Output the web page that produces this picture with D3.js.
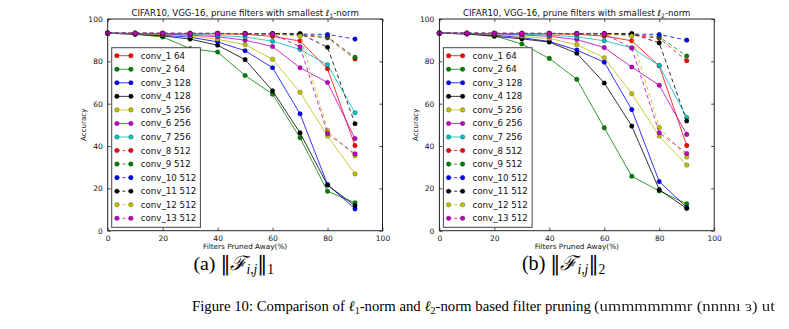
<!DOCTYPE html>
<html>
<head>
<meta charset="utf-8">
<script src="https://cdn.jsdelivr.net/npm/d3@7"></script>
<style>
  body { margin: 0; background: #fff; }
  svg { display: block; }
</style>
</head>
<body>
<svg id="fig" width="789" height="329"></svg>
<script>
// Fraction of filters pruned away in a single layer (%)
const pruned = [0, 10, 20, 30, 40, 50, 60, 70, 80, 90];

// Layer names with their number of filters
const layers = ["conv_1 64", "conv_2 64", "conv_3 128", "conv_4 128", "conv_5 256",
  "conv_6 256", "conv_7 256", "conv_8 512", "conv_9 512", "conv_10 512",
  "conv_11 512", "conv_12 512", "conv_13 512"];

// Test accuracy (%) after pruning filters with the smallest l1-norm
const l1Accuracy = [
  [93.3, 93.2, 93.1, 93.0, 93.0, 92.8, 91.8, 89.6, 76.5, 40.2],
  [93.3, 92.8, 91.5, 86.0, 84.4, 73.3, 64.5, 43.9, 18.6, 13.2],
  [93.3, 93.0, 92.4, 91.4, 89.2, 85.0, 77.0, 55.2, 21.8, 10.3],
  [93.3, 92.8, 92.0, 90.5, 87.6, 80.8, 66.1, 46.2, 21.5, 11.8],
  [93.3, 93.0, 92.6, 92.0, 90.4, 87.9, 81.0, 65.4, 44.7, 26.8],
  [93.3, 93.1, 92.9, 92.4, 91.6, 90.0, 87.0, 77.0, 70.0, 43.5],
  [93.3, 93.2, 93.1, 92.8, 92.2, 91.5, 89.5, 85.6, 78.4, 55.7],
  [93.3, 93.2, 93.2, 93.1, 93.1, 93.0, 92.9, 92.3, 91.1, 81.1],
  [93.3, 93.2, 93.2, 93.2, 93.1, 93.0, 92.9, 92.6, 91.6, 81.9],
  [93.3, 93.3, 93.2, 93.2, 93.2, 93.1, 93.0, 92.9, 92.7, 90.5],
  [93.3, 93.3, 93.2, 93.2, 93.2, 93.1, 93.1, 93.1, 86.6, 50.5],
  [93.3, 93.3, 93.2, 93.2, 93.1, 93.0, 92.8, 92.0, 47.3, 35.4],
  [93.3, 93.3, 93.3, 93.2, 93.2, 93.1, 93.0, 86.9, 45.9, 36.3]
];

// Test accuracy (%) after pruning filters with the smallest l2-norm
const l2Accuracy = [
  [93.3, 93.2, 93.1, 93.0, 93.0, 92.8, 91.9, 89.7, 77.9, 40.2],
  [93.3, 93.0, 92.1, 88.2, 81.4, 71.5, 48.6, 25.7, 18.8, 12.7],
  [93.3, 93.0, 92.4, 91.2, 89.4, 85.3, 79.6, 57.2, 23.2, 11.0],
  [93.3, 92.9, 91.8, 90.6, 89.1, 83.8, 69.8, 49.4, 19.4, 10.5],
  [93.3, 93.1, 92.7, 91.8, 90.8, 87.9, 81.7, 64.7, 44.7, 31.0],
  [93.3, 93.2, 93.0, 92.5, 91.8, 90.3, 86.5, 77.3, 68.7, 45.5],
  [93.3, 93.2, 93.1, 92.8, 92.4, 91.6, 89.7, 86.4, 78.0, 53.5],
  [93.3, 93.2, 93.2, 93.1, 93.1, 93.0, 92.9, 92.4, 90.9, 80.3],
  [93.3, 93.2, 93.2, 93.2, 93.1, 93.0, 92.9, 92.6, 91.6, 82.5],
  [93.3, 93.3, 93.2, 93.2, 93.2, 93.1, 93.0, 92.9, 92.7, 90.0],
  [93.3, 93.3, 93.2, 93.2, 93.2, 93.1, 93.1, 93.1, 88.7, 51.8],
  [93.3, 93.3, 93.2, 93.2, 93.1, 93.0, 92.8, 92.0, 48.8, 34.8],
  [93.3, 93.3, 93.3, 93.2, 93.2, 93.1, 93.0, 86.3, 46.3, 36.5]
];

const xTicks = [0, 20, 40, 60, 80, 100];
const yTicks = [0, 20, 40, 60, 80, 100];

// classic matplotlib colour cycle: r g b k y m c
const cycle = ["#ff0000", "#008000", "#0000ff", "#000000", "#bfbf00", "#bf00bf", "#00bfbf"];
const colorOf = i => cycle[i % cycle.length];
const dashedOf = i => i >= 7;

const svg = d3.select("#fig");
const SANS = "'DejaVu Sans', 'Bitstream Vera Sans', sans-serif";
const SERIF = "'Liberation Serif', 'Times New Roman', serif";

const plotW = 274.8, plotH = 211.7, plotTop = 19;

function fitWidth(sel, baseSize, target) {
  const w = sel.node().getComputedTextLength();
  sel.attr("font-size", baseSize * target / w);
}

function drawPanel(left, accuracy, normIndex, letter, captionX, captionW) {
  const g = svg.append("g");
  const x = d3.scaleLinear().domain([0, 100]).range([left, left + plotW]);
  const y = d3.scaleLinear().domain([0, 100]).range([plotTop + plotH, plotTop]);

  // inward ticks on all four sides
  const tickLen = 3;
  const ax = g.append("g").attr("transform", `translate(0,${plotTop + plotH})`)
    .call(d3.axisBottom(x).tickValues(xTicks).tickSizeInner(-tickLen).tickSizeOuter(0).tickPadding(5));
  const axTop = g.append("g").attr("transform", `translate(0,${plotTop})`)
    .call(d3.axisTop(x).tickValues(xTicks).tickSizeInner(-tickLen).tickSizeOuter(0).tickFormat(""));
  const ay = g.append("g").attr("transform", `translate(${left},0)`)
    .call(d3.axisLeft(y).tickValues(yTicks).tickSizeInner(-tickLen).tickSizeOuter(0).tickPadding(5));
  const ayR = g.append("g").attr("transform", `translate(${left + plotW},0)`)
    .call(d3.axisRight(y).tickValues(yTicks).tickSizeInner(-tickLen).tickSizeOuter(0).tickFormat(""));
  [ax, axTop, ay, ayR].forEach(a => {
    a.select(".domain").remove();
    a.selectAll("line").attr("stroke", "#222").attr("stroke-width", 0.8);
    a.selectAll("text").attr("font-family", SANS).attr("font-size", 7.5).attr("fill", "#111");
  });

  // series: line then markers, drawn in layer order
  const line = d3.line().x((d, k) => x(pruned[k])).y(d => y(d));
  accuracy.forEach((vals, i) => {
    const col = colorOf(i);
    g.append("path").datum(vals).attr("d", line)
      .attr("fill", "none").attr("stroke", col).attr("stroke-width", 1)
      .attr("stroke-opacity", 0.8)
      .attr("stroke-dasharray", dashedOf(i) ? "4,3" : null);
    g.selectAll(null).data(vals).join("circle")
      .attr("cx", (d, k) => x(pruned[k])).attr("cy", d => y(d)).attr("r", 2.3)
      .attr("fill", col).attr("stroke", "#000").attr("stroke-width", 0.4).attr("stroke-opacity", 0.6);
  });

  // frame
  g.append("rect").attr("x", left).attr("y", plotTop).attr("width", plotW).attr("height", plotH)
    .attr("fill", "none").attr("stroke", "#222").attr("stroke-width", 1);

  // legend (lower left)
  const lg = g.append("g").attr("transform", `translate(${left + 4},${plotTop + 28.7})`);
  lg.append("rect").attr("width", 88.7).attr("height", 179.6)
    .attr("fill", "#fff").attr("stroke", "#444").attr("stroke-width", 1);
  layers.forEach((name, i) => {
    const ey = 8 + i * 13.55;
    const col = colorOf(i);
    lg.append("line").attr("x1", 5.2).attr("x2", 19.2).attr("y1", ey).attr("y2", ey)
      .attr("stroke", col).attr("stroke-width", 1).attr("stroke-opacity", 0.8)
      .attr("stroke-dasharray", dashedOf(i) ? "3,2.5" : null);
    [5.2, 19.2].forEach(cx => lg.append("circle").attr("cx", cx).attr("cy", ey).attr("r", 2.3)
      .attr("fill", col).attr("stroke", "#000").attr("stroke-width", 0.4).attr("stroke-opacity", 0.6));
    lg.append("text").attr("x", 29).attr("y", ey).attr("dy", "0.35em")
      .attr("font-family", SANS).attr("font-size", 8.7).attr("fill", "#111").text(name);
  });

  // title
  const t = g.append("text").attr("x", left + plotW / 2).attr("y", 16.3).attr("text-anchor", "middle")
    .attr("font-family", SANS).attr("font-size", 8.6).attr("fill", "#111");
  t.append("tspan").text("CIFAR10, VGG-16, prune filters with smallest ");
  t.append("tspan").attr("font-style", "italic").text("ℓ");
  t.append("tspan").attr("font-size", 6).attr("dy", 1.8).text(normIndex);
  t.append("tspan").attr("dy", -1.8).text("-norm");

  // axis labels
  g.append("text").attr("transform", `translate(${left - 21.5},${plotTop + plotH / 2}) rotate(-90)`)
    .attr("text-anchor", "middle").attr("font-family", SANS).attr("font-size", 7.1).attr("fill", "#111")
    .text("Accuracy");
  g.append("text").attr("x", left + plotW / 2).attr("y", 249.3).attr("text-anchor", "middle")
    .attr("font-family", SANS).attr("font-size", 7.3).attr("fill", "#111")
    .text("Filters Pruned Away(%)");

  // sub-caption
  const c = g.append("text").attr("x", captionX).attr("y", 270).attr("text-anchor", "middle")
    .attr("font-family", SERIF).attr("font-size", 17).attr("fill", "#000");
  c.append("tspan").text(`(${letter}) `);
  c.append("tspan").attr("font-family", "'DejaVu Serif', serif").attr("font-weight", 300).text("‖");
  c.append("tspan").attr("font-style", "italic").attr("font-family", "'DejaVu Serif', serif").text("ℱ");
  c.append("tspan").attr("font-style", "italic").attr("font-size", "0.68em").attr("dy", 3.5).text("i,j");
  c.append("tspan").attr("dy", -3.5).attr("font-family", "'DejaVu Serif', serif").text("‖");
  c.append("tspan").attr("font-size", "0.68em").attr("dy", 3.5).text(normIndex);
  fitWidth(c, 17, captionW);
}

drawPanel(107.7, l1Accuracy, "1", "a", 233.7, 81);
drawPanel(439.4, l2Accuracy, "2", "b", 563.6, 83);

// figure caption
const cap = svg.append("text").attr("x", 192).attr("y", 311).attr("font-family", SERIF)
  .attr("font-size", 14.7).attr("fill", "#000");
cap.append("tspan").text("Figure 10: Comparison of ");
cap.append("tspan").attr("font-style", "italic").text("ℓ");
cap.append("tspan").attr("font-size", 10).attr("dy", 3).text("1");
cap.append("tspan").attr("dy", -3).text("-norm and ");
cap.append("tspan").attr("font-style", "italic").text("ℓ");
cap.append("tspan").attr("font-size", 10).attr("dy", 3).text("2");
cap.append("tspan").attr("dy", -3).text("-norm based filter pruning");
fitWidth(cap, 14.7, 399);

// smudged continuation of the caption line
svg.append("defs").append("filter").attr("id", "smudge")
  .append("feGaussianBlur").attr("stdDeviation", 0.4);
svg.append("text").attr("x", 594).attr("y", 311).attr("font-family", SERIF)
  .attr("font-size", 15.5).attr("fill", "#222").attr("filter", "url(#smudge)")
  .attr("textLength", 181).attr("lengthAdjust", "spacingAndGlyphs")
  .text("(ummmmmmr (nnnnı   ɜ)  ut");
</script>
</body>
</html>
